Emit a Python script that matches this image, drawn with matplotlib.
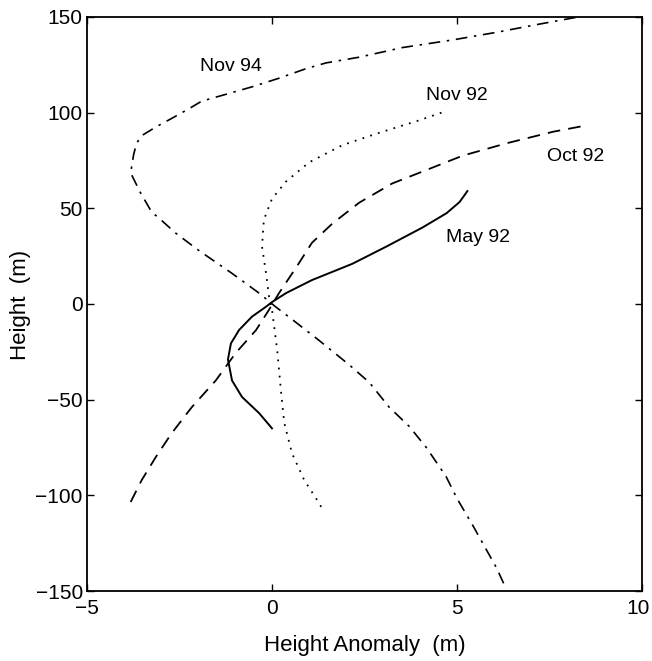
'''
height anomaly profiles for four survey dates
'''

import matplotlib
matplotlib.use('Agg')
import matplotlib.pyplot as plt
from matplotlib.transforms import ScaledTranslation

plt.rcParams['font.family'] = ['Liberation Sans', 'DejaVu Sans']

# Nov 94 (dash-dot)
NOV94_X = [6.26, 6.07, 5.42, 5.01, 4.70, 4.17, 3.71, 3.17, 2.63, 2.10, 1.27, 0.54,
           0.10, -0.35, -1.08, -1.98, -2.60, -3.06, -3.25, -3.55, -3.82, -3.74,
           -3.66, -3.52, -3.14, -2.71, -2.25, -1.90, -1.17, -0.54, 0.19, 0.92,
           1.46, 2.36, 3.52, 4.88, 6.07, 7.15, 8.13, 8.30]
NOV94_Y = [-146, -138, -115.5, -102, -90, -75, -64, -54, -41, -32, -19, -8,
           -1.5, 5.7, 16, 28, 37, 45, 48, 58, 68.5, 78, 84, 88, 92.5, 97, 102,
           106, 110, 113.5, 118, 123, 126, 129, 134, 138, 142, 146, 149.5, 150]

# Nov 92 (dotted)
NOV92_X = [1.33, 1.22, 0.87, 0.54, 0.33, 0.24, 0.14, 0.0, -0.08, -0.16, -0.27,
           -0.22, 0.0, 0.38, 1.0, 1.90, 2.82, 3.98, 4.58]
NOV92_Y = [-106, -102.5, -92, -78, -62, -45, -24, -3, 3.7, 16, 30, 44, 55, 64,
           74, 83, 89, 96, 100]

# Oct 92 (dashed)
OCT92_X = [-3.82, -3.52, -3.14, -2.71, -2.17, -1.52, -0.98, -0.43, -0.08, 0.19,
           0.65, 1.08, 1.63, 2.36, 3.25, 4.17, 5.15, 6.34, 7.59, 8.54]
OCT92_Y = [-103.5, -92, -80, -67.5, -54, -40, -25.6, -13.6, -3, 5.7, 19, 32,
           42, 53, 63, 70, 77.5, 84, 90, 93.5]

# May 92 (solid)
MAY92_X = [0.0, -0.35, -0.81, -1.08, -1.19, -1.11, -0.89, -0.54, -0.16, 0.0,
           0.38, 1.08, 2.17, 3.09, 4.07, 4.72, 5.07, 5.28]
MAY92_Y = [-65, -57, -48.6, -40, -29, -20.6, -13.6, -6.6, -1.4, 1, 5.7, 12.5,
           21, 30, 40, 47.5, 53.3, 59]

LABELS = ['Nov 94', 'Nov 92', 'Oct 92', 'May 92']
LABEL_X = [-1.1, 5.0, 8.2, 5.58]
LABEL_Y = [124, 109, 77, 34.5]

X_TICKS = [-5, 0, 5, 10]
Y_TICKS = [-150, -100, -50, 0, 50, 100, 150]


fig_ = plt.figure(figsize=(6.52, 6.61), dpi=100)
ax_ = fig_.add_axes([0.1334, 0.1059, 0.8513, 0.8684])

_ = ax_.plot(NOV94_X, NOV94_Y, color='black', lw=1.2, dashes=[7, 4, 1.5, 4])
_ = ax_.plot(NOV92_X, NOV92_Y, color='black', lw=1.3, dashes=[1, 3.5])
_ = ax_.plot(OCT92_X, OCT92_Y, color='black', lw=1.3, dashes=[7, 4.5])
_ = ax_.plot(MAY92_X, MAY92_Y, color='black', lw=1.4)

for lab, lx, ly in zip(LABELS, LABEL_X, LABEL_Y):
    ax_.text(lx, ly, lab, fontsize=14, ha='center', va='center')

ax_.set_xlim(-5, 10)
ax_.set_ylim(-150, 150)
ax_.set_xticks(X_TICKS)
ax_.set_yticks(Y_TICKS)
ax_.tick_params(direction='in', top=True, right=True, length=5, width=1,
                labelsize=15)
ax_.tick_params(axis='x', pad=6)
ax_.tick_params(axis='y', pad=3)
for sp in ax_.spines.values():
    sp.set_linewidth(1.3)

# last x tick label sits against the right edge, keep it inside the figure
last_ = ax_.get_xticklabels()[-1]
last_.set_horizontalalignment('right')
last_.set_transform(last_.get_transform() +
                    ScaledTranslation(8 / 100, 0, fig_.dpi_scale_trans))

fig_.text(0.56, 1 - 645 / 661, 'Height Anomaly  (m)', fontsize=16,
          ha='center', va='center')
fig_.text(21 / 652, 1 - 305 / 661, 'Height  (m)', fontsize=16,
          ha='center', va='center', rotation=90)

fig_.savefig('out.png', dpi=100)
